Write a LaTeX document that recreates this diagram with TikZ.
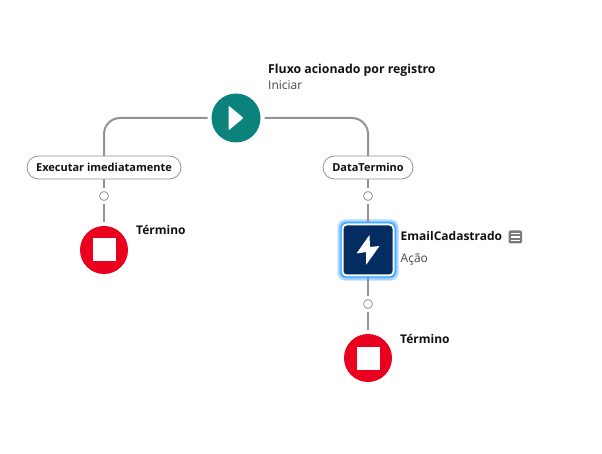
\documentclass[tikz,border=0pt]{standalone}
\usepackage{fontspec}
\setmainfont{Open Sans}
\definecolor{startgreen}{HTML}{0B827C}
\definecolor{endred}{HTML}{EA001E}
\definecolor{actionblue}{HTML}{032D60}
\definecolor{glowblue}{HTML}{1B96FF}
\definecolor{linegray}{HTML}{939393}
\definecolor{labelblack}{HTML}{111111}
\definecolor{labelgray}{HTML}{444444}
\definecolor{icongray}{HTML}{7A7A7A}
\tikzset{
    linkline/.style={draw=linegray, line width=2pt},
    startnode/.style={circle, fill=startgreen, minimum size=49pt, inner sep=0pt, outer sep=4pt},
    endnode/.style={circle, fill=endred, minimum size=48pt, inner sep=0pt, outer sep=4pt},
    pillnode/.style={draw=linegray, fill=white, line width=0.8pt, rounded corners=11.5pt, minimum height=23pt, inner sep=0pt, outer sep=0pt, font=\fontsize{11pt}{13pt}\selectfont\bfseries, text=labelblack},
    dotnode/.style={circle, draw=linegray, fill=white, line width=0.8pt, minimum size=9pt, inner sep=0pt, outer sep=3.5pt},
    actionnode/.style={rectangle, draw=white, fill=actionblue, line width=2pt, rounded corners=4pt, minimum size=51pt, inner sep=0pt, outer sep=1.5pt},
    boldlabel/.style={anchor=base west, inner sep=0pt, text=labelblack, font=\fontsize{12pt}{14pt}\selectfont\bfseries},
    pluslabel/.style={anchor=base west, inner sep=0pt, text=labelgray, font=\fontsize{12pt}{14pt}\selectfont},
}
\begin{document}
\begin{tikzpicture}[x=1pt, y=-1pt]
    \useasboundingbox (0, 0) rectangle (602, 454);

    % glow behind the action box
    \foreach \g in {8, 7, 6, 5, 4}
        \fill[glowblue, opacity=0.13, rounded corners=8pt] (368-27-\g/2, 250-27-\g/2) rectangle (368+27+\g/2, 250+27+\g/2);
    \fill[glowblue, rounded corners=5pt] (368-27.5, 250-27.5) rectangle (368+27.5, 250+27.5);

    \node[startnode] (Start) at (236, 118){};
    \node[pillnode, minimum width=154pt] (PillNow) at (104, 167.5){Executar imediatamente};
    \node[pillnode, minimum width=90pt] (PillDate) at (368, 167.5){DataTermino};
    \node[dotnode] (DotNow) at (104, 196){};
    \node[dotnode] (DotDate) at (368, 196){};
    \node[dotnode] (DotAction) at (368, 304){};
    \node[endnode] (EndNow) at (104, 250){};
    \node[actionnode] (Action) at (368, 250){};
    \node[endnode] (EndAction) at (368, 358){};

    \draw[linkline, rounded corners=16pt] (Start.west) -| (PillNow.north);
    \draw[linkline, rounded corners=16pt] (Start.east) -| (PillDate.north);
    \draw[linkline] (PillNow) -- (DotNow);
    \draw[linkline] (DotNow) -- (EndNow);
    \draw[linkline] (PillDate) -- (DotDate);
    \draw[linkline] (DotDate) -- (Action);
    \draw[linkline] (Action) -- (DotAction);
    \draw[linkline] (DotAction) -- (EndAction);

    % glyphs inside the nodes
    \fill[white, rounded corners=1pt] (228.5, 105.5) -- (243.5, 118) -- (228.5, 130.5) -- cycle;
    \fill[white] (92.5, 238.5) rectangle (115.5, 261.5);
    \fill[white] (356.5, 346.5) rectangle (379.5, 369.5);
    \fill[white, rounded corners=0.5pt] (369.5, 235) -- (356.5, 253.5) -- (366, 252) -- (366, 265) -- (379.5, 246) -- (370, 247) -- cycle;

    \node[boldlabel, font=\fontsize{12.3pt}{14pt}\selectfont\bfseries] (LabelStart) at (268, 73.5){Fluxo acionado por registro};
    \node[pluslabel] (LabelStartSub) at (268, 89.5){Iniciar};
    \node[boldlabel] (LabelEndNow) at (136, 234.5){Término};
    \node[boldlabel] (LabelAction) at (400.5, 240.5){EmailCadastrado};
    \node[pluslabel] (LabelActionSub) at (400.5, 262.5){Ação};
    \node[boldlabel] (LabelEndAction) at (400, 343.5){Término};

    % note icon next to the action label
    \fill[icongray, rounded corners=2pt] (508.5, 230.5) rectangle (522, 243.5);
    \foreach \y in {233.5, 237, 240.5}
        \draw[white, line width=1.2pt] (511, \y) -- (519.5, \y);
\end{tikzpicture}
\end{document}
